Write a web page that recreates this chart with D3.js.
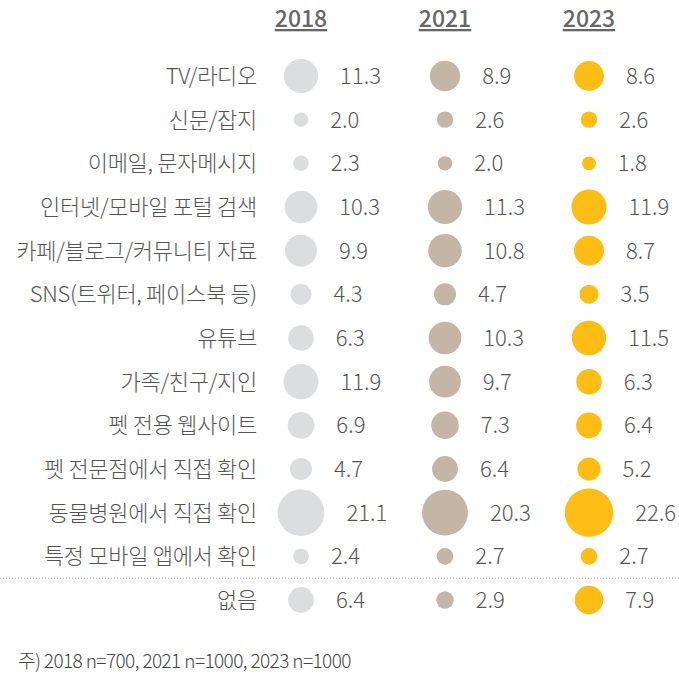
<!DOCTYPE html>
<html><head><meta charset="utf-8">
<script src="https://cdn.jsdelivr.net/npm/d3@7"></script>
<style>body{margin:0;background:#fff}text{font-family:"Noto Sans CJK KR","Noto Sans",sans-serif;font-weight:300}</style>
</head><body><svg id="c" width="679" height="682"></svg>
<script>
const categories = ["TV/라디오","신문/잡지","이메일, 문자메시지","인터넷/모바일 포털 검색","카페/블로그/커뮤니티 자료","SNS(트위터, 페이스북 등)","유튜브","가족/친구/지인","펫 전용 웹사이트","펫 전문점에서 직접 확인","동물병원에서 직접 확인","특정 모바일 앱에서 확인","없음"];
const years = ["2018","2021","2023"];
const v2018 = [11.3,2.0,2.3,10.3,9.9,4.3,6.3,11.9,6.9,4.7,21.1,2.4,6.4];
const v2021 = [8.9,2.6,2.0,11.3,10.8,4.7,10.3,9.7,7.3,6.4,20.3,2.7,2.9];
const v2023 = [8.6,2.6,1.8,11.9,8.7,3.5,11.5,6.3,6.4,5.2,22.6,2.7,7.9];
const series = [v2018,v2021,v2023];
const colors = ["#dcdddf","#c4b5a6","#fdbd14"];

const svg = d3.select("#c");
const x = d3.scalePoint().domain(years).range([301,589]);
const y = d3.scalePoint().domain(categories).range([76,600]);
const r = d3.scaleSqrt().domain([0,22.6]).range([0,24.2]);

svg.selectAll(".yr").data(years).join("text")
  .attr("x",d=>x(d)).attr("y",27).attr("text-anchor","middle").style("font-weight",500)
  .attr("font-size",23).attr("fill","#666").attr("text-decoration","underline").text(d=>d);

svg.selectAll(".lab").data(categories).join("text")
  .attr("x",257).attr("y",d=>y(d)+8).attr("text-anchor","end")
  .attr("font-size",22).attr("fill","#555").attr("letter-spacing","-0.3").text(d=>d);

const ySep = (y(categories[11])+y(categories[12]))/2;
svg.append("line").attr("x1",0).attr("x2",679).attr("y1",ySep).attr("y2",ySep)
  .attr("stroke","#999").attr("stroke-dasharray","1,2");

series.forEach((vals,i)=>{
  const g = svg.append("g");
  g.selectAll("circle").data(vals).join("circle")
    .attr("cx",x(years[i])).attr("cy",(d,j)=>y(categories[j])).attr("r",d=>r(d)).attr("fill",colors[i]);
  g.selectAll("text").data(vals).join("text")
    .attr("x",d=>x(years[i])+r(d)+22).attr("y",(d,j)=>y(categories[j])+8)
    .attr("font-size",22).attr("fill","#555").text(d=>d.toFixed(1));
});

svg.append("text").attr("x",18).attr("y",668).attr("font-size",19).attr("fill","#444")
  .attr("letter-spacing","-0.6").text("주) 2018 n=700, 2021 n=1000, 2023 n=1000");
</script></body></html>
